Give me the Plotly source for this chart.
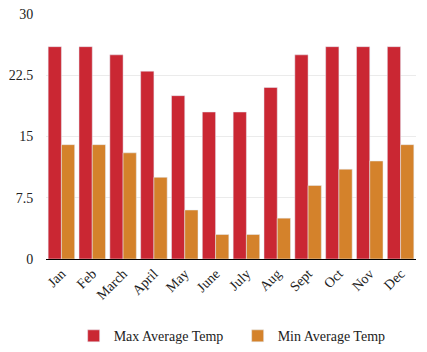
import plotly.graph_objects as go

months = ["Jan", "Feb", "March", "April", "May", "June", "July", "Aug", "Sept", "Oct", "Nov", "Dec"]
max_temp = [26, 26, 25, 23, 20, 18, 18, 21, 25, 26, 26, 26]
min_temp = [14, 14, 13, 10, 6, 3, 3, 5, 9, 11, 12, 14]
y_ticks = [0, 7.5, 15, 22.5, 30]

FONT = "Liberation Serif"

fig = go.Figure()
fig.add_trace(go.Bar(x=months, y=max_temp, name="Max Average Temp", marker_color="#CA2733"))
fig.add_trace(go.Bar(x=months, y=min_temp, name="Min Average Temp", marker_color="#D4822B"))

fig.update_layout(
    width=427, height=352,
    margin=dict(l=46, r=11, t=14, b=93, autoexpand=False),
    paper_bgcolor="white", plot_bgcolor="white",
    font=dict(family=FONT, size=14, color="#222"),
    barmode="group", bargap=0.14, bargroupgap=0,
    showlegend=True,
    legend=dict(orientation="h", x=0.518, xanchor="center", y=-0.25, yanchor="top",
                font=dict(family=FONT, size=14), tracegroupgap=0,
                entrywidth=119, entrywidthmode="pixels"),
    xaxis=dict(tickangle=-45, showgrid=False, showline=True, linecolor="black", linewidth=1,
               ticks="", automargin=False, tickfont=dict(family=FONT, size=14)),
    yaxis=dict(range=[0, 30], tickvals=y_ticks, ticktext=["0", "7.5", "15", "22.5", "30"],
               showgrid=True, gridcolor="#EBEBEB", zeroline=False, showline=False,
               ticks="outside", ticklen=9, tickcolor="rgba(0,0,0,0)",
               automargin=False, tickfont=dict(family=FONT, size=14)),
)
fig.write_html("out.html")
